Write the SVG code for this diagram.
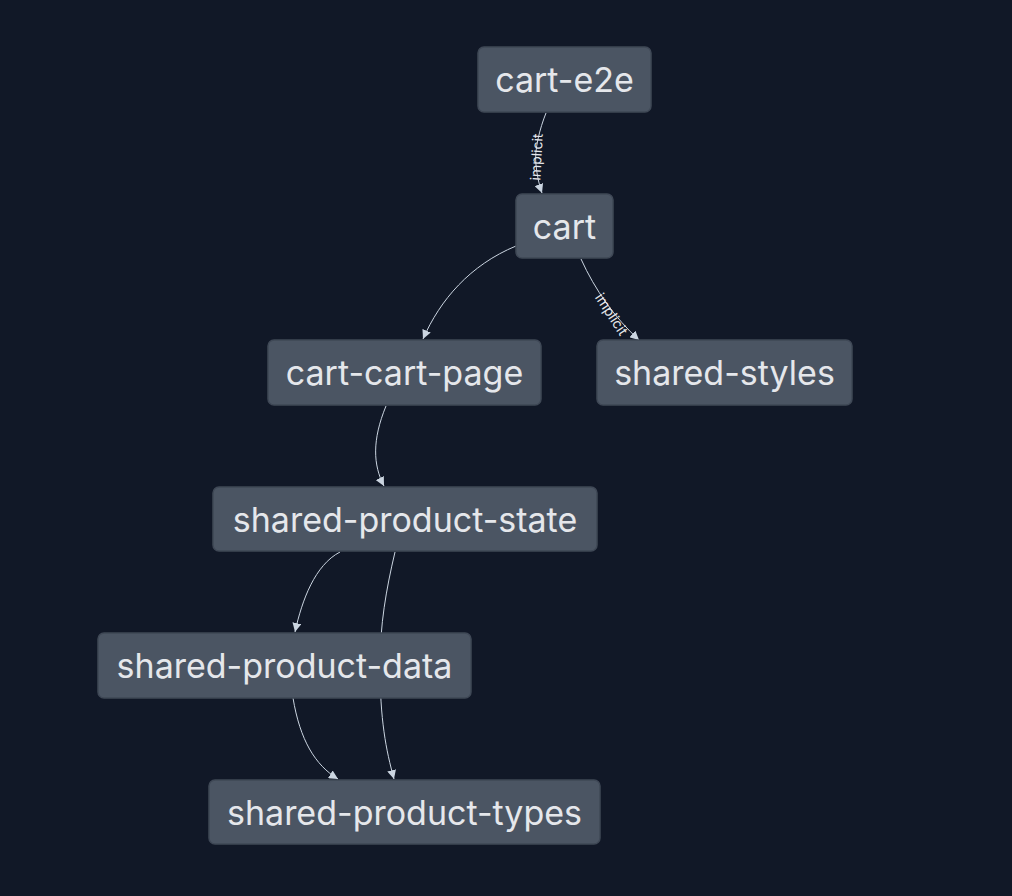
<svg xmlns="http://www.w3.org/2000/svg" width="1012" height="896" viewBox="0 0 1012 896">
<style>
.node rect{fill:#4b5563;stroke:#3f4856;stroke-width:1.5}
.node text{font-family:Inter,"Noto Sans","Liberation Sans",sans-serif;font-size:34px;fill:#e5e7eb;text-anchor:middle;dominant-baseline:central}
.edge{fill:none;stroke:#cbd5e1;stroke-width:1;marker-end:url(#arr)}
.lbl{font-family:Inter,"Noto Sans","Liberation Sans",sans-serif;font-size:14px;fill:#e5e7eb;text-anchor:middle;dominant-baseline:central}
</style>
<defs>
<marker id="arr" viewBox="0 0 10 10" refX="10" refY="5" markerWidth="9" markerHeight="9" markerUnits="userSpaceOnUse" orient="auto">
<path d="M0,0 L10,5 L0,10 z" fill="#cbd5e1"/>
</marker>
</defs>
<rect width="1012" height="896" fill="#111827"/>
<g id="connectors">
<path class="edge" d="M546,113 C540,128 534,150 536,165 C537,175 539,185 542,193"/>
<path class="edge" d="M581,259 C595,290 615,318 639,340"/>
<path class="edge" d="M516,246 C470,265 440,300 423,339"/>
<path class="edge" d="M386,406 C372,440 373,465 384,486"/>
<path class="edge" d="M340,552 C315,565 302,600 295,632"/>
<path class="edge" d="M395,552 C386,590 380,625 380,665 C380,720 386,750 394,779"/>
<path class="edge" d="M293,698 C300,740 315,765 338,779"/>
<text class="lbl" transform="translate(536,157) rotate(-87)">implicit</text>
<text class="lbl" transform="translate(612,314) rotate(57)">implicit</text>
</g>
<g id="cart-e2e" class="node"><rect x="478" y="47" width="173" height="65" rx="6"/><text x="564.5" y="79.5">cart-e2e</text></g>
<g id="cart" class="node"><rect x="516" y="194" width="97" height="64" rx="6"/><text x="564.5" y="226">cart</text></g>
<g id="cart-cart-page" class="node"><rect x="268" y="340" width="273" height="65" rx="6"/><text x="404.5" y="372.5">cart-cart-page</text></g>
<g id="shared-styles" class="node"><rect x="597" y="340" width="255" height="65" rx="6"/><text x="724.5" y="372.5">shared-styles</text></g>
<g id="shared-product-state" class="node"><rect x="213" y="487" width="384" height="64" rx="6"/><text x="405" y="519">shared-product-state</text></g>
<g id="shared-product-data" class="node"><rect x="98" y="633" width="373" height="65" rx="6"/><text x="284.5" y="665.5">shared-product-data</text></g>
<g id="shared-product-types" class="node"><rect x="209" y="780" width="391" height="64" rx="6"/><text x="404.5" y="812">shared-product-types</text></g>
</svg>
